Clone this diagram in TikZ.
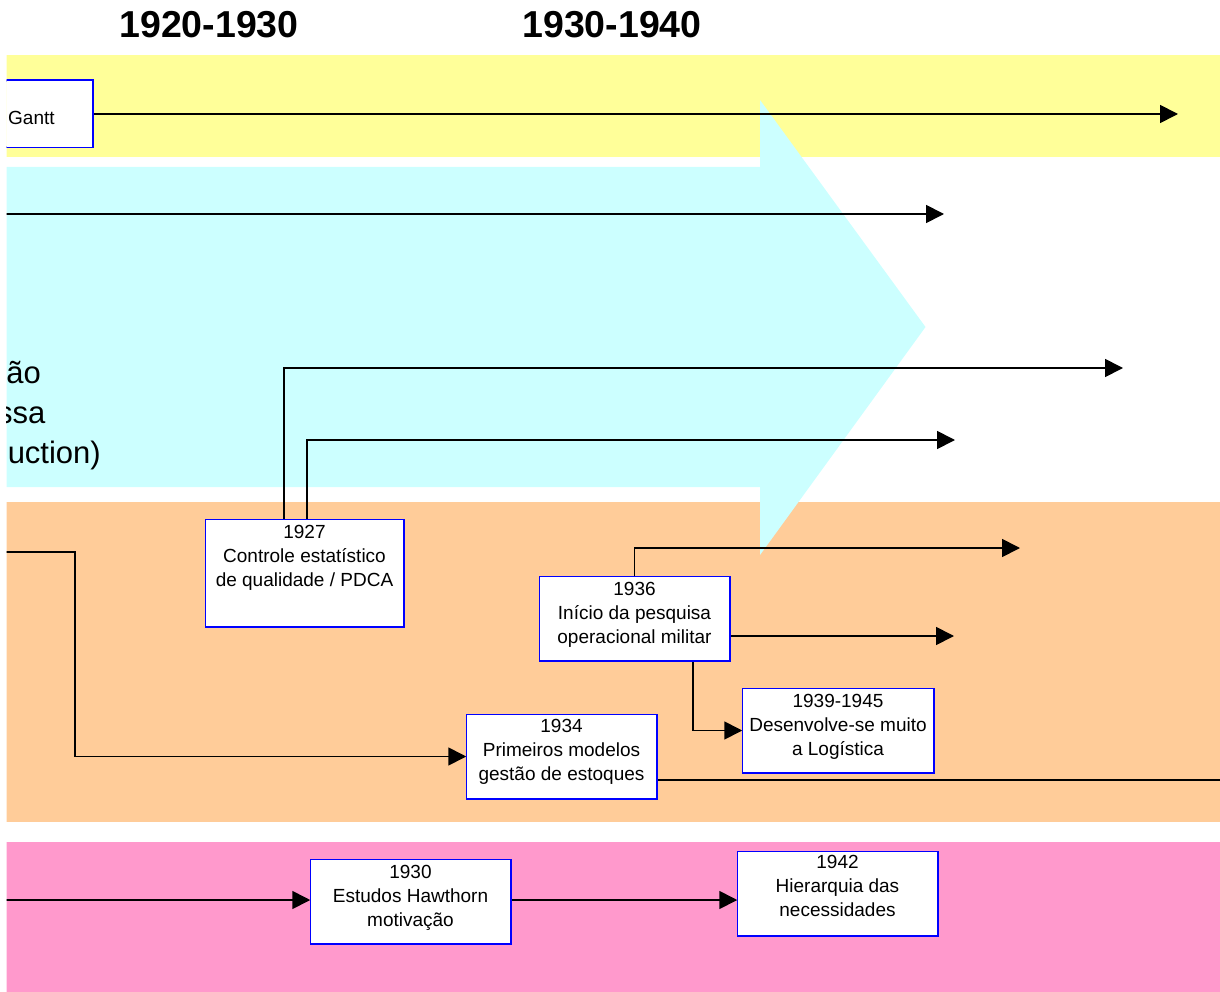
\documentclass[tikz,border=0pt]{standalone}
\usepackage{fontspec}
\setmainfont{Liberation Sans}
\usetikzlibrary{arrows.meta,calc}

\definecolor{bandyellow}{HTML}{FFFF99}
\definecolor{bandcyan}{HTML}{CCFFFF}
\definecolor{bandorange}{HTML}{FFCC99}
\definecolor{bandpink}{HTML}{FF99CC}
\definecolor{boxblue}{HTML}{0000FF}

% centred lines whose first baseline is the reference point
\newcommand\stacklines[1]{\begin{tabular}[t]{@{}c@{}}#1\end{tabular}}

\tikzset{
  band/.style={fill=#1, draw=none},
  box/.style={draw=boxblue, line width=1.5pt, fill=white, inner sep=0pt},
  boxtext/.style={anchor=base, inner sep=0pt, font=\fontsize{19}{24}\selectfont},
  bigtext/.style={anchor=base east, inner sep=0pt, font=\fontsize{31}{40}\selectfont},
  header/.style={anchor=base, inner sep=0pt, font=\fontsize{37.5}{40}\selectfont\bfseries},
  link/.style={draw=black, line width=1.7pt},
  arr/.style={link, -{Triangle[length=18pt,width=18pt]}},
}

\begin{document}
\begin{tikzpicture}[x=1pt,y=-1pt]
\useasboundingbox (0,0) rectangle (1220,992);

% period headings
\node[header] (h1) at (209,38) {1920-1930};
\node[header] (h2) at (612,38) {1930-1940};

\begin{scope}
\clip (6.5,0) rectangle (1220,992);

% coloured bands
\fill[band=bandyellow] (0,55) rectangle (1220,157);
\fill[band=bandorange] (0,502) rectangle (1220,822);
\fill[band=bandpink] (0,842) rectangle (1220,992);

% large block arrow
\fill[bandcyan] (-5,167) -- (760,167) -- (760,100) -- (925.5,327)
  -- (760,555) -- (760,487) -- (-5,487) -- cycle;
\node[bigtext] (m1) at (41,383) {ão};
\node[bigtext] (m2) at (45.5,423) {ssa};
\node[bigtext] (m3) at (101,463) {uction)};

% boxes
\node[box, minimum width=120pt, minimum height=66pt] (gantt) at (32,114) {};
\node[box, minimum width=197pt, minimum height=106pt] (b1927) at (304.5,573) {};
\node[box, minimum width=189pt, minimum height=83pt] (b1936) at (634.5,618.5) {};
\node[box, minimum width=190pt, minimum height=83pt] (b1939) at (838,730.5) {};
\node[box, minimum width=189pt, minimum height=83pt] (b1934) at (561.5,756.5) {};
\node[box, minimum width=199pt, minimum height=83pt] (b1930) at (410.5,901.5) {};
\node[box, minimum width=199pt, minimum height=83pt] (b1942) at (837.5,893.5) {};

% free ends of the connectors
\coordinate (e1) at (1178,114);
\coordinate (s2) at (-5,214);
\coordinate (e2) at (944,214);
\coordinate (e3) at (1123,368);
\coordinate (e4) at (955,440);
\coordinate (e5) at (1020,548);
\coordinate (e6) at (954,636);
\coordinate (s7) at (-5,552);
\coordinate (k7) at (75,552);
\coordinate (e8) at (1225,780);
\coordinate (s9) at (-5,900);

% connectors
\draw[arr] (gantt.east) -- (e1);
\draw[arr] (s2) -- (e2);
\draw[arr] ($(b1927.north)+(-20.5,0)$) |- (e3);
\draw[arr] ($(b1927.north)+(2.5,0)$) |- (e4);
\draw[arr] (b1936.north) |- (e5);
\draw[arr] (b1936.east |- e6) -- (e6);
\draw[arr] ($(b1936.south)+(58.5,0)$) |- (b1939.west);
\draw[arr] (s7) -- (k7) |- (b1934.west);
\draw[link] (b1934.east |- e8) -- (e8);
\draw[arr] (s9) -- (b1930.west |- s9);
\draw[arr] (b1930.east |- s9) -- (b1942.west |- s9);

% redraw boxes above the connector ends
\foreach \b in {gantt,b1927,b1936,b1939,b1934,b1930,b1942}
  \draw[draw=boxblue, line width=1.5pt, fill=white]
    (\b.north west) rectangle (\b.south east);

% box texts
\node[boxtext, anchor=base west] (tg) at (8,125) {Gantt};
\node[boxtext] (t1927) at ($(b1927.north)+(0,19)$)
  {\stacklines{1927\\Controle estatístico\\de qualidade / PDCA}};
\node[boxtext] (t1936) at ($(b1936.north)+(0,19)$)
  {\stacklines{1936\\Início da pesquisa\\operacional militar}};
\node[boxtext] (t1939) at ($(b1939.north)+(0,19)$)
  {\stacklines{1939-1945\\Desenvolve-se muito\\a Logística}};
\node[boxtext] (t1934) at ($(b1934.north)+(0,18)$)
  {\stacklines{1934\\Primeiros modelos\\gestão de estoques}};
\node[boxtext] (t1930) at ($(b1930.north)+(0,19)$)
  {\stacklines{1930\\Estudos Hawthorn\\motivação}};
\node[boxtext] (t1942) at ($(b1942.north)+(0,17)$)
  {\stacklines{1942\\Hierarquia das\\necessidades}};
\end{scope}
\end{tikzpicture}
\end{document}
